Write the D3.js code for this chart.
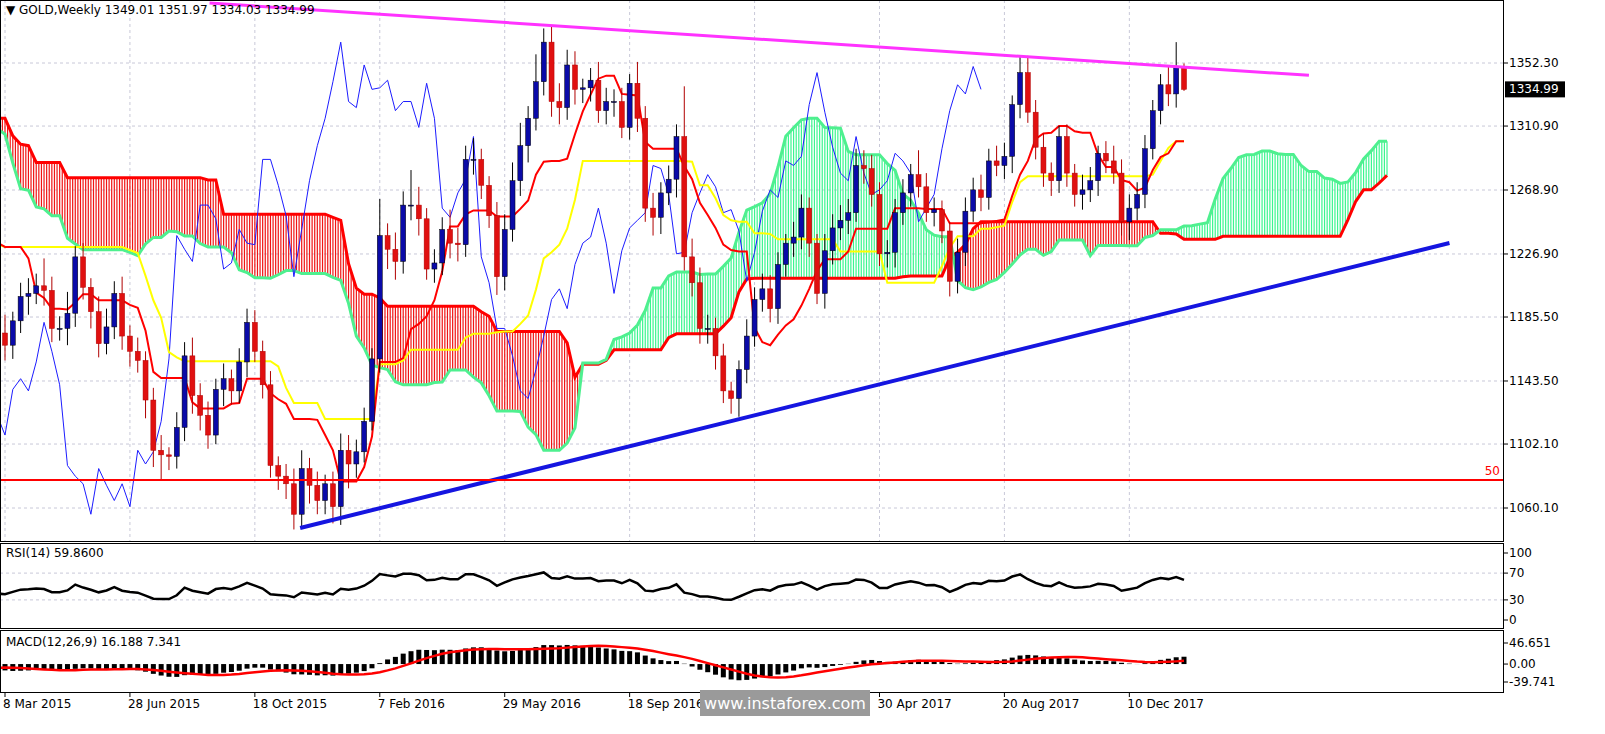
<!DOCTYPE html>
<html><head><meta charset="utf-8">
<script src="https://cdn.jsdelivr.net/npm/d3@7"></script>
<style>body{margin:0;background:#fff}svg{display:block;font-family:"DejaVu Sans",sans-serif}</style>
</head><body><svg id="c" width="1605" height="734"></svg>
<script>
// weekly closes before the visible window (9 Mar 2014 .. 1 Mar 2015), used only for indicator warm-up
const priorCloses = [1336,1382,1336,1294,1303,1318,1293,1300,1302,1293,1294,1250,1252,1275,1316,1320,1320,1337,1308,1310,1303,1310,1305,1281,1287,1268,1253,1227,1216,1214,1192,1222,1238,1231,1172,1185,1197,1175,1192,1222,1196,1195,1195,1216,1277,1294,1279,1234,1227,1204,1213,1175];
const priorWick = 12;
// weekly closes, 8 Mar 2015 .. 28 Jan 2018
const closes = [
1167,1183,1199,1201,1206,1203,1178,1178,1188,1225,1205,1189,1168,1179,1201,1173,1163,1157,1131,1098,1095,1094,1113,1160,1134,1121,1108,1138,1145,1137,1156,1182,1163,1141,1088,1081,1076,1056,1086,1075,1065,1076,1061,
1098,1089,1097,1117,1158,1239,1230,1222,1259,1259,1250,1217,1221,1243,1234,1233,1289,1289,1272,1252,1212,1243,1275,1298,1316,1340,1366,1327,1323,1351,1335,1336,1341,1321,1327,1327,1310,1339,1316,1257,1251,1267,1276,1304,1225,1208,1178,1178,1160,1137,1132,1151,
1173,1197,1204,1191,1220,1234,1238,1257,1234,1201,1229,1244,1249,1254,1285,1283,1266,1227,1228,1254,1267,1279,1271,1254,1256,1242,1209,1228,1255,1269,1264,1288,1285,1291,1325,1346,1320,1297,1280,1275,1304,1280,1266,1269,1275,1293,1288,1280,1248,1257,1266,1296,1321,
1338,1332,1350,1334.99];
const upWick = [
12,6,9,10,8,18,9,8,14,7,9,6,10,12,8,11,7,9,6,8,10,5,10,9,12,8,9,7,10,6,9,9,8,7,9,6,8,10,12,7,9,6,8,
11,10,8,9,7,24,8,11,9,23,12,7,9,8,13,10,9,14,7,6,9,10,12,15,8,18,9,10,12,10,9,6,8,12,9,8,9,6,14,8,10,7,9,8,33,12,10,9,7,8,6,6,11,
8,10,9,8,6,10,9,7,6,11,9,10,9,11,10,9,8,8,9,9,7,16,9,8,6,6,9,9,8,10,8,10,9,6,11,11,8,9,7,7,8,6,10,9,5,8,10,9,9,8,9,7,
7,12,16,2];
const dnWick = [
10,9,8,12,7,10,9,8,11,9,8,11,9,7,8,9,10,8,12,11,16,9,8,9,12,10,9,6,11,9,8,10,7,9,8,9,10,10,8,12,9,9,11,
12,16,9,7,6,9,13,12,8,10,11,7,9,8,10,11,8,10,9,8,12,9,8,10,11,8,9,10,11,8,10,9,9,8,9,10,7,8,9,9,12,11,8,12,9,9,10,10,9,8,10,12,9,
7,8,9,10,8,9,8,9,7,10,9,8,9,6,10,8,8,9,10,8,9,7,6,9,8,10,8,9,7,9,8,7,9,11,9,7,8,9,10,8,9,8,10,8,10,8,7,9,12,8,9,7,
9,8,9,1];
const priceTicks = [1352.30,1310.90,1268.90,1226.90,1185.50,1143.50,1102.10,1060.10];
const dateLabels = ["8 Mar 2015","28 Jun 2015","18 Oct 2015","7 Feb 2016","29 May 2016","18 Sep 2016","8 Jan 2017","30 Apr 2017","20 Aug 2017","10 Dec 2017"];
const dateLabelIdx = [0,16,32,48,64,80,96,112,128,144];
const magentaLine = [[26.2,1391.7],[167,1344.2]];
const blueLine = [[37.8,1047],[185,1234.1]];
const level50 = 1078.5;

const P = priorCloses.length;
const allC = priorCloses.concat(closes);
const N = allC.length;
const opens = allC.map((c,i)=> i===0?c:allC[i-1]);
const highs = allC.map((c,i)=> Math.max(c,opens[i])+(i<P?priorWick:upWick[i-P]));
const lows = allC.map((c,i)=> Math.min(c,opens[i])-(i<P?priorWick:dnWick[i-P]));

const svg = d3.select("#c");
const W=1503;
const x0 = d3.scaleLinear().domain([0,151]).range([5,1184]);
const x = i=>x0(i-P); // index in full series -> px
const y = d3.scaleLinear().domain([1060.1,1352.3]).range([508,63]);

const panels=[[0,541],[543,628],[630,692]];
panels.forEach((p,k)=>{svg.append("rect").attr("x",0.5).attr("y",p[0]+0.5).attr("width",W).attr("height",p[1]-p[0]).attr("fill","none").attr("stroke","#000");
  svg.append("clipPath").attr("id","cp"+k).append("rect").attr("x",1).attr("y",p[0]+1).attr("width",W-1).attr("height",p[1]-p[0]-1);});

const main = svg.append("g").attr("clip-path","url(#cp0)");
const gridC="#c8c8d8";
priceTicks.forEach(t=>main.append("line").attr("x1",0).attr("x2",W).attr("y1",y(t)).attr("y2",y(t)).attr("stroke",gridC).attr("stroke-dasharray","3,3"));
dateLabelIdx.forEach(i=>main.append("line").attr("x1",x0(i)).attr("x2",x0(i)).attr("y1",0).attr("y2",541).attr("stroke",gridC).attr("stroke-dasharray","3,3"));

function hl(i,n){let h=-1e9,l=1e9;for(let k=Math.max(0,i-n+1);k<=i;k++){h=Math.max(h,highs[k]);l=Math.min(l,lows[k]);}return (h+l)/2;}
const tenkan=allC.map((c,i)=>hl(i,9)), kijun=allC.map((c,i)=>hl(i,26));
const spanA=[],spanB=[];
for(let i=P-30;i<N;i++){spanA.push([i+26,(tenkan[i]+kijun[i])/2]);spanB.push([i+26,hl(i,52)]);}
for(let k=0;k<spanA.length;k++){
  const a=spanA[k][1],b=spanB[k][1], xa=x(spanA[k][0]);
  const last=k===spanA.length-1, na=last?a:spanA[k+1][1], nb=last?b:spanB[k+1][1];
  const steps=last?1:3;
  for(let s=0;s<steps;s++){
    const f=s/steps, aa=a+(na-a)*f, bb=b+(nb-b)*f;
    main.append("line").attr("x1",xa+f*7.81).attr("x2",xa+f*7.81).attr("y1",y(aa)).attr("y2",y(bb))
      .attr("stroke",aa>=bb?"#3cf58f":"#f01414").attr("stroke-width",1.2);
  }
}
const ln=d3.line().x(d=>x(d[0])).y(d=>y(d[1]));
main.append("path").attr("d",ln(spanB)).attr("fill","none").attr("stroke","#f00").attr("stroke-width",3);
main.append("path").attr("d",ln(spanA)).attr("fill","none").attr("stroke","#4ef08f").attr("stroke-width",3);
main.append("path").attr("d",ln(allC.map((c,i)=>[i-26,c]).filter(d=>d[0]>=P-2))).attr("fill","none").attr("stroke","#1c1cff").attr("stroke-width",1);
const vis=d=>d[0]>=P-2;
main.append("path").attr("d",ln(kijun.map((v,i)=>[i,v]).filter(vis))).attr("fill","none").attr("stroke","#ffff00").attr("stroke-width",2);
main.append("path").attr("d",ln(tenkan.map((v,i)=>[i,v]).filter(vis))).attr("fill","none").attr("stroke","#f00").attr("stroke-width",2);

for(let i=P;i<N;i++){
  const up=allC[i]>=opens[i], col=up?"#0a0aa8":"#e01010";
  main.append("line").attr("x1",x(i)).attr("x2",x(i)).attr("y1",y(highs[i])).attr("y2",y(lows[i])).attr("stroke",up?"#000":"#b00000");
  const t=y(Math.max(opens[i],allC[i])), b=y(Math.min(opens[i],allC[i]));
  main.append("rect").attr("x",x(i)-2.5).attr("y",t).attr("width",5).attr("height",Math.max(1,b-t)).attr("fill",col).attr("stroke",up?"#000":"#b00000").attr("stroke-width",0.5);
}
function seg(p,col,w){main.append("line").attr("x1",x0(p[0][0])).attr("y1",y(p[0][1])).attr("x2",x0(p[1][0])).attr("y2",y(p[1][1])).attr("stroke",col).attr("stroke-width",w);}
seg(magentaLine,"#ff33ff",3);
seg(blueLine,"#1515e0",4);
main.append("line").attr("x1",0).attr("x2",W).attr("y1",y(level50)).attr("y2",y(level50)).attr("stroke","#f00").attr("stroke-width",2);
svg.append("text").attr("x",1500).attr("y",y(level50)-5).attr("text-anchor","end").attr("font-size",12).attr("fill","#f00").text("50");

priceTicks.forEach(t=>{
  svg.append("line").attr("x1",W).attr("x2",W+5).attr("y1",y(t)).attr("y2",y(t)).attr("stroke","#000");
  svg.append("text").attr("x",W+6).attr("y",y(t)+4).attr("font-size",12).text(t.toFixed(2));
});
const lastC=closes[closes.length-1];
svg.append("rect").attr("x",W+2).attr("y",y(lastC)-8).attr("width",60).attr("height",16).attr("fill","#000");
svg.append("text").attr("x",W+6).attr("y",y(lastC)+4).attr("font-size",12).attr("fill","#fff").text(lastC.toFixed(2));
svg.append("text").attr("x",6).attr("y",14).attr("font-size",12).text("▼ GOLD,Weekly  1349.01 1351.97 1334.03 1334.99");

// RSI
const rsi=[];let ag=0,al=0;
for(let i=1;i<N;i++){const d=allC[i]-allC[i-1],g=Math.max(d,0),l=Math.max(-d,0);
  if(i<=14){ag+=g/14;al+=l/14;}else{ag=(ag*13+g)/14;al=(al*13+l)/14;}
  if(i>=P-2)rsi.push([i,100-100/(1+ag/(al||1e-9))]);}
const yr=d3.scaleLinear().domain([0,100]).range([620,553]);
const rg=svg.append("g").attr("clip-path","url(#cp1)");
[70,30].forEach(v=>rg.append("line").attr("x1",0).attr("x2",W).attr("y1",yr(v)).attr("y2",yr(v)).attr("stroke",gridC).attr("stroke-dasharray","3,3"));
rg.append("path").attr("d",d3.line().x(d=>x(d[0])).y(d=>yr(d[1]))(rsi)).attr("fill","none").attr("stroke","#000").attr("stroke-width",2.5);
[100,70,30,0].forEach(v=>{svg.append("text").attr("x",W+6).attr("y",yr(v)+4).attr("font-size",12).text(v);svg.append("line").attr("x1",W).attr("x2",W+5).attr("y1",yr(v)).attr("y2",yr(v)).attr("stroke","#000");});
svg.append("text").attr("x",6).attr("y",557).attr("font-size",12).text("RSI(14) 59.8600");

// MACD
function ema(arr,n){const k=2/(n+1);let e=arr[0];return arr.map(v=>e=v*k+e*(1-k));}
const e12=ema(allC,12),e26=ema(allC,26);
const macd=allC.map((c,i)=>e12[i]-e26[i]);
const sig=macd.map((m,i)=>d3.mean(macd.slice(Math.max(0,i-8),i+1)));
const ym=d3.scaleLinear().domain([-39.741,46.651]).range([682,643]);
const mg=svg.append("g").attr("clip-path","url(#cp2)");
for(let i=P;i<N;i++){const v=macd[i];mg.append("rect").attr("x",x(i)-2.5).attr("width",5).attr("y",Math.min(ym(v),ym(0))).attr("height",Math.abs(ym(v)-ym(0))).attr("fill","#000");}
mg.append("path").attr("d",d3.line().x(d=>x(d[0])).y(d=>ym(d[1]))(sig.map((v,i)=>[i,v]).filter(vis))).attr("fill","none").attr("stroke","#f00").attr("stroke-width",2.5);
[46.651,0,-39.741].forEach(v=>{svg.append("text").attr("x",W+6).attr("y",ym(v)+4).attr("font-size",12).text(v===0?"0.00":v.toFixed(3));svg.append("line").attr("x1",W).attr("x2",W+5).attr("y1",ym(v)).attr("y2",ym(v)).attr("stroke","#000");});
svg.append("text").attr("x",6).attr("y",646).attr("font-size",12).text("MACD(12,26,9) 16.188 7.341");

dateLabelIdx.forEach((i,k)=>{svg.append("line").attr("x1",x0(i)).attr("x2",x0(i)).attr("y1",692).attr("y2",697).attr("stroke","#000");
  svg.append("text").attr("x",x0(i)-2).attr("y",708).attr("font-size",12).text(dateLabels[k]);});
svg.append("rect").attr("x",700).attr("y",690).attr("width",170).attr("height",26).attr("fill","#9a9a9a");
svg.append("text").attr("x",785).attr("y",709).attr("text-anchor","middle").attr("font-size",16).attr("fill","#fff").text("www.instaforex.com");
</script></body></html>
